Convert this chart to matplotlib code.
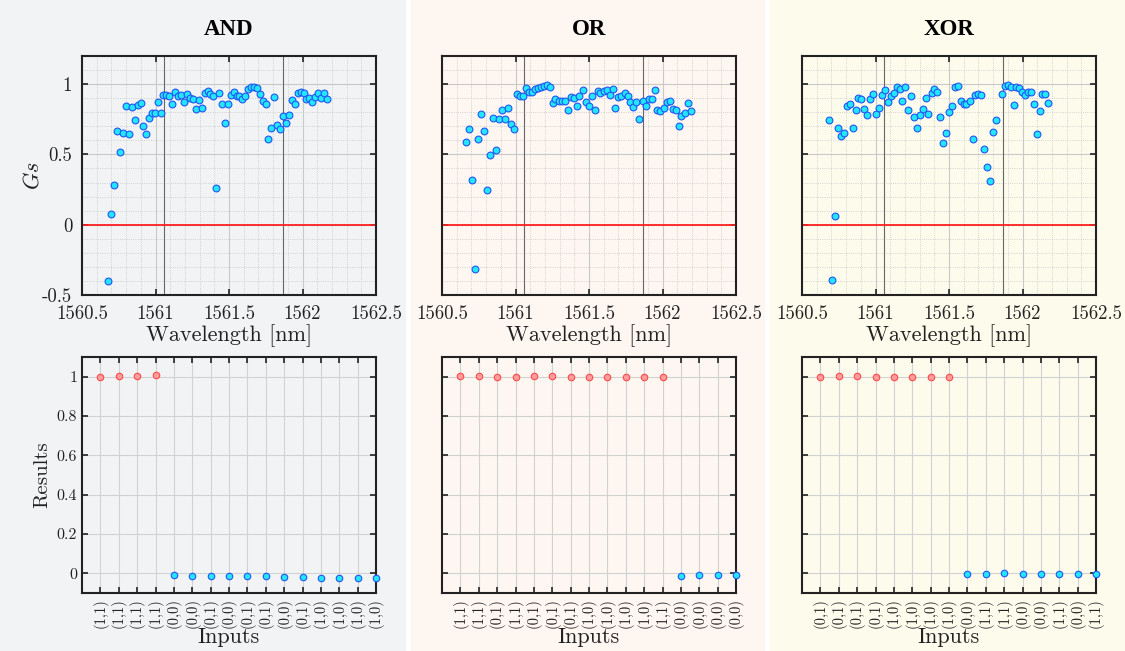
import matplotlib
matplotlib.use('Agg')
import matplotlib.pyplot as plt
from matplotlib.patches import Rectangle
from matplotlib.ticker import MultipleLocator

plt.rcParams['font.family'] = 'serif'
plt.rcParams['font.serif'] = ['cmr10']
plt.rcParams['mathtext.fontset'] = 'cm'
plt.rcParams['axes.unicode_minus'] = False
plt.rcParams['axes.formatter.use_mathtext'] = False

# ---- data ----
wl_and = [1560.679, 1560.697, 1560.717, 1560.738, 1560.758, 1560.778, 1560.798, 1560.818,
          1560.839, 1560.859, 1560.879, 1560.899, 1560.917, 1560.937, 1560.957, 1560.978,
          1560.998, 1561.016, 1561.036, 1561.054, 1561.074, 1561.094, 1561.114, 1561.135,
          1561.155, 1561.175, 1561.195, 1561.215, 1561.233, 1561.253, 1561.274, 1561.294,
          1561.314, 1561.334, 1561.354, 1561.374, 1561.392, 1561.413, 1561.433, 1561.451,
          1561.471, 1561.491, 1561.511, 1561.531, 1561.552, 1561.570, 1561.590, 1561.610,
          1561.630, 1561.650, 1561.670, 1561.691, 1561.711, 1561.729, 1561.749, 1561.767,
          1561.787, 1561.807, 1561.827, 1561.848, 1561.868, 1561.888, 1561.908, 1561.928,
          1561.948, 1561.966, 1561.987, 1562.007, 1562.027, 1562.047, 1562.067, 1562.085,
          1562.105, 1562.126, 1562.143, 1562.164]
gs_and = [-0.40, 0.074, 0.279, 0.668, 0.520, 0.649, 0.842, 0.642,
          0.838, 0.747, 0.852, 0.866, 0.704, 0.647, 0.759, 0.797,
          0.797, 0.876, 0.797, 0.921, 0.926, 0.912, 0.862, 0.943,
          0.912, 0.926, 0.876, 0.931, 0.902, 0.897, 0.823, 0.888,
          0.833, 0.936, 0.952, 0.931, 0.912, 0.260, 0.940, 0.862,
          0.723, 0.862, 0.921, 0.943, 0.912, 0.916, 0.897, 0.916,
          0.967, 0.976, 0.981, 0.971, 0.928, 0.883, 0.862, 0.613,
          0.687, 0.907, 0.709, 0.678, 0.773, 0.723, 0.783, 0.888,
          0.857, 0.938, 0.947, 0.938, 0.897, 0.902, 0.876, 0.907,
          0.940, 0.902, 0.936, 0.893]

wl_or = [1560.664, 1560.684, 1560.703, 1560.724, 1560.744, 1560.765, 1560.786, 1560.806,
         1560.827, 1560.846, 1560.866, 1560.887, 1560.908, 1560.929, 1560.949, 1560.970,
         1560.991, 1561.009, 1561.030, 1561.051, 1561.069, 1561.090, 1561.111, 1561.131,
         1561.150, 1561.171, 1561.191, 1561.212, 1561.233, 1561.253, 1561.272, 1561.293,
         1561.313, 1561.334, 1561.355, 1561.376, 1561.396, 1561.415, 1561.435, 1561.456,
         1561.477, 1561.498, 1561.518, 1561.539, 1561.558, 1561.578, 1561.599, 1561.620,
         1561.641, 1561.661, 1561.680, 1561.700, 1561.721, 1561.742, 1561.763, 1561.781,
         1561.802, 1561.823, 1561.843, 1561.864, 1561.885, 1561.906, 1561.926, 1561.947,
         1561.965, 1561.986, 1562.007, 1562.028, 1562.048, 1562.069, 1562.090, 1562.111,
         1562.129, 1562.150, 1562.171, 1562.191]
gs_or = [0.589, 0.678, 0.317, -0.315, 0.613, 0.790, 0.666, 0.246,
         0.496, 0.757, 0.532, 0.752, 0.816, 0.752, 0.833, 0.718,
         0.683, 0.933, 0.916, 0.912, 0.971, 0.947, 0.947, 0.962,
         0.971, 0.981, 0.990, 0.995, 0.976, 0.866, 0.897, 0.883,
         0.878, 0.883, 0.816, 0.907, 0.902, 0.847, 0.912, 0.957,
         0.876, 0.847, 0.912, 0.816, 0.952, 0.938, 0.952, 0.957,
         0.921, 0.967, 0.831, 0.907, 0.912, 0.938, 0.912, 0.871,
         0.838, 0.871, 0.752, 0.883, 0.842, 0.897, 0.893, 0.957,
         0.816, 0.811, 0.831, 0.876, 0.883, 0.826, 0.816, 0.704,
         0.773, 0.797, 0.866, 0.811]

wl_xor = [1560.685, 1560.705, 1560.725, 1560.745, 1560.766, 1560.786, 1560.804, 1560.824,
          1560.845, 1560.865, 1560.883, 1560.903, 1560.923, 1560.944, 1560.964, 1560.982,
          1561.002, 1561.023, 1561.043, 1561.063, 1561.083, 1561.104, 1561.124, 1561.144,
          1561.164, 1561.182, 1561.203, 1561.223, 1561.243, 1561.261, 1561.282, 1561.302,
          1561.322, 1561.342, 1561.360, 1561.381, 1561.401, 1561.421, 1561.441, 1561.462,
          1561.482, 1561.502, 1561.520, 1561.541, 1561.561, 1561.581, 1561.599, 1561.619,
          1561.640, 1561.660, 1561.680, 1561.698, 1561.718, 1561.739, 1561.759, 1561.779,
          1561.797, 1561.818, 1561.858, 1561.878, 1561.899, 1561.919, 1561.939, 1561.957,
          1561.977, 1561.998, 1562.018, 1562.038, 1562.056, 1562.077, 1562.097, 1562.117,
          1562.135, 1562.155, 1562.176]
gs_xor = [0.742, -0.394, 0.060, 0.690, 0.630, 0.654, 0.847, 0.862,
          0.690, 0.814, 0.902, 0.897, 0.821, 0.783, 0.897, 0.928,
          0.788, 0.831, 0.921, 0.957, 0.871, 0.916, 0.938, 0.981,
          0.967, 0.883, 0.976, 0.819, 0.912, 0.764, 0.690, 0.778,
          0.823, 0.902, 0.788, 0.938, 0.962, 0.943, 0.766, 0.582,
          0.654, 0.802, 0.842, 0.981, 0.986, 0.878, 0.862, 0.862,
          0.881, 0.609, 0.921, 0.928, 0.921, 0.537, 0.413, 0.310,
          0.661, 0.742, 0.928, 0.986, 0.995, 0.976, 0.854, 0.976,
          0.971, 0.943, 0.921, 0.943, 0.947, 0.862, 0.647, 0.811,
          0.933, 0.928, 0.866]

marker_lines = [1561.055, 1561.865]

inputs_and = ['(1,1)', '(1,1)', '(1,1)', '(1,1)', '(0,0)', '(0,0)', '(0,1)', '(0,0)',
              '(0,1)', '(0,1)', '(0,0)', '(0,1)', '(1,0)', '(1,0)', '(1,0)', '(1,0)']
res_and = [1.000, 1.003, 1.003, 1.006, -0.010, -0.013, -0.016, -0.016,
           -0.013, -0.016, -0.018, -0.018, -0.023, -0.023, -0.023, -0.026]

inputs_or = ['(1,1)', '(1,1)', '(0,1)', '(1,1)', '(0,1)', '(0,1)', '(0,1)', '(1,0)',
             '(1,0)', '(1,0)', '(1,0)', '(1,1)', '(0,0)', '(0,0)', '(0,0)', '(0,0)']
res_or = [1.003, 1.002, 0.999, 0.999, 1.004, 1.004, 1.000, 0.999,
          0.999, 1.000, 0.999, 1.000, -0.012, -0.010, -0.011, -0.011]

inputs_xor = ['(0,1)', '(0,1)', '(0,1)', '(0,1)', '(1,0)', '(1,0)', '(1,0)', '(1,0)',
              '(0,0)', '(1,1)', '(1,1)', '(0,0)', '(0,0)', '(1,1)', '(0,0)', '(1,1)']
res_xor = [1.000, 1.002, 1.004, 1.000, 0.999, 1.000, 1.000, 1.000,
           -0.003, -0.001, 0.001, -0.001, -0.002, -0.001, -0.001, -0.001]

titles = ['AND', 'OR', 'XOR']
panel_colors = ['#f1f3f5', '#fdf6f1', '#fdfbec']

cyan = '#22e6ff'
blue = '#2255ee'
pink = '#ff9c9c'
red_edge = '#ff4a4a'

fig = plt.figure(figsize=(11.25, 6.51), dpi=100)
W, H = 1125.0, 651.0

# panel backgrounds
panel_x = [(0, 406), (411, 765), (770, 1125)]
for (x0, x1), c in zip(panel_x, panel_colors):
    fig.patches.append(Rectangle((x0 / W, 0), (x1 - x0) / W, 1.0, transform=fig.transFigure,
                                 facecolor=c, edgecolor='none', zorder=-10))

lefts = [82, 442, 802]
ax_w = 294
top_data = [(wl_and, gs_and), (wl_or, gs_or), (wl_xor, gs_xor)]
bot_data = [(inputs_and, res_and), (inputs_or, res_or), (inputs_xor, res_xor)]


def style_axes(ax, lsize):
    ax.set_facecolor('none')
    for s in ax.spines.values():
        s.set_linewidth(1.5)
        s.set_color('#222222')
    ax.tick_params(direction='in', top=True, right=True, length=4, width=1.2,
                   labelsize=lsize, colors='#222222')
    ax.tick_params(which='minor', length=0)


for i in range(3):
    wl, gs = top_data[i]
    ax = fig.add_axes([lefts[i] / W, 1 - 295 / H, ax_w / W, 239 / H])
    style_axes(ax, 13.5)
    ax.tick_params(axis='x', pad=7)
    ax.tick_params(axis='y', pad=7)
    ax.set_xlim(1560.5, 1562.5)
    ax.set_ylim(-0.5, 1.2)
    ax.xaxis.set_minor_locator(MultipleLocator(0.1))
    ax.set_yticks([-0.5, 0, 0.5, 1])
    ax.yaxis.set_minor_locator(MultipleLocator(0.1))
    ax.set_xticks([1560.5, 1561, 1561.5, 1562, 1562.5])
    ax.set_xticklabels(['1560.5', '1561', '1561.5', '1562', '1562.5'])
    ax.set_yticklabels(['-0.5', '0', '0.5', '1'] if i == 0 else [])
    ax.grid(True, which='major', color='#c9c9c9', lw=0.8)
    ax.grid(True, which='minor', color='#c4c4c4', lw=0.6, ls=':')
    ax.set_axisbelow(True)
    for xv in marker_lines:
        ax.axvline(xv, color='#666666', lw=0.8, zorder=1)
    ax.axhline(0, color='#ff2020', lw=1.3, zorder=2)
    ax.scatter(wl, gs, s=24, facecolor=cyan, edgecolor=blue, linewidth=0.8, zorder=3)
    ax.set_xlabel('Wavelength [nm]', fontsize=16, color='#222222', labelpad=1)
    if i == 0:
        ax.set_ylabel('$Gs$', fontsize=16, color='#222222', labelpad=0)
    ax.set_title(titles[i], fontsize=16.5, fontweight='bold', family='Liberation Serif',
                 pad=15, color='black')

    labels, res = bot_data[i]
    axb = fig.add_axes([lefts[i] / W, 1 - 593 / H, ax_w / W, 236 / H])
    style_axes(axb, 11.5)
    xs = list(range(1, len(res) + 1))
    axb.set_xlim(0, 16)
    axb.set_ylim(-0.1, 1.1)
    axb.set_xticks(xs)
    axb.set_xticklabels(labels, rotation=90, fontsize=10.5)
    axb.set_yticks([0, 0.2, 0.4, 0.6, 0.8, 1])
    axb.set_yticklabels(['0', '0.2', '0.4', '0.6', '0.8', '1'] if i == 0 else [])
    axb.grid(True, which='major', color='#d2d2d2', lw=0.8)
    axb.set_axisbelow(True)
    ones = [(x, r) for x, r in zip(xs, res) if r > 0.5]
    zeros = [(x, r) for x, r in zip(xs, res) if r <= 0.5]
    axb.scatter([p[0] for p in ones], [p[1] for p in ones], s=22, facecolor=pink,
                edgecolor=red_edge, linewidth=0.8, zorder=3, clip_on=False)
    axb.scatter([p[0] for p in zeros], [p[1] for p in zeros], s=22, facecolor=cyan,
                edgecolor=blue, linewidth=0.8, zorder=3, clip_on=False)
    axb.set_xlabel('Inputs', fontsize=16, color='#222222', labelpad=0)
    if i == 0:
        axb.set_ylabel('Results', fontsize=15, color='#222222')

fig.savefig('out.png', dpi=100)
